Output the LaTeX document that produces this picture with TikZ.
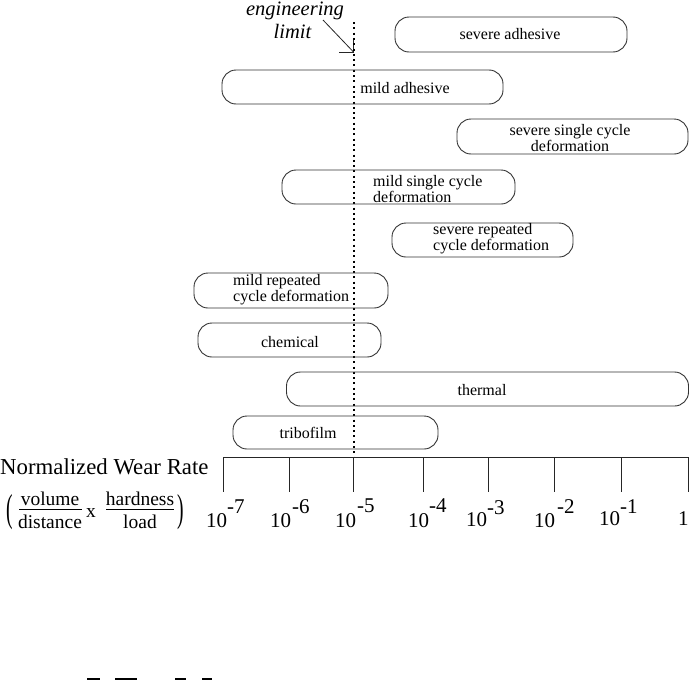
\documentclass[tikz,border=0pt]{standalone}
\usepackage{fontspec}
\setmainfont{Liberation Serif}
\begin{document}
\begin{tikzpicture}[x=1pt,y=-1pt,
  wbox/.style={draw=black!80, line width=0.9pt, rounded corners=14pt, inner sep=0pt},
  btext/.style={font=\fontsize{16}{16}\selectfont, inner sep=0pt},
  axtext/.style={font=\fontsize{21}{21}\selectfont, inner sep=0pt, anchor=base west},
  ftext/.style={font=\fontsize{19.5}{19.5}\selectfont, inner sep=0pt, anchor=base},
  thinln/.style={line width=0.8pt, draw=black!85},
  ]
\useasboundingbox (0,0) rectangle (690,680);

% engineering limit
\node[font=\fontsize{20.5}{20.5}\selectfont\itshape, inner sep=0pt, anchor=base] (eng) at (295,15) {engineering};
\node[font=\fontsize{20.5}{20.5}\selectfont\itshape, inner sep=0pt, anchor=base] (lim) at (292.5,38) {limit};
\coordinate (tail) at (323,20);
\coordinate (tip) at (353.5,52);
\draw[thinln] (tail) -- (tip);
\draw[thinln] (tip) -- ++(-15,0);
\draw[thinln] (tip) -- ++(0,-14);
\coordinate (limtop) at (353.5,22);
\coordinate (limbot) at (353.5,457);
\draw[line width=2pt, dash pattern=on 2pt off 3.3pt] (limtop) -- (limbot);

% boxes
\node[wbox, minimum width=232pt, minimum height=35pt] (sa) at (511,34.5) {};
\node[btext] (saT) at (510,34) {severe adhesive};

\node[wbox, minimum width=281pt, minimum height=34pt] (ma) at (362.5,87) {};
\node[btext] (maT) at (405,88) {mild adhesive};

\node[wbox, minimum width=231pt, minimum height=35pt] (ss) at (572.5,136.5) {};
\node[btext, align=center] (ssT) at (570,138) {severe single cycle\\deformation};

\node[wbox, minimum width=233pt, minimum height=34pt] (ms) at (398.5,187) {};
\node[btext, align=left, anchor=west] (msT) at (373,189) {mild single cycle\\deformation};

\node[wbox, minimum width=181pt, minimum height=34pt] (sr) at (482.5,240) {};
\node[btext, align=left, anchor=west] (srT) at (433,239) {severe repeated\\cycle deformation};

\node[wbox, minimum width=194pt, minimum height=35pt] (mr) at (291,290.5) {};
\node[btext, align=left, anchor=west] (mrT) at (233,290) {mild repeated\\cycle deformation};

\node[wbox, minimum width=183pt, minimum height=34pt] (ch) at (289.5,340) {};
\node[btext] (chT) at (290,342) {chemical};

\node[wbox, minimum width=402pt, minimum height=34pt] (th) at (487.5,389) {};
\node[btext] (thT) at (482,390) {thermal};

\node[wbox, minimum width=205pt, minimum height=33pt] (tr) at (335.5,432.5) {};
\node[btext] (trT) at (308,433) {tribofilm};

% axis
\coordinate (a0) at (223,457);
\coordinate (a1) at (688,457);
\draw[thinln] (a0) -- (a1);
\foreach \x in {223,289,353.5,423,488,554,621,688}
  \draw[thinln] (\x,457) -- (\x,492);

\node[axtext] (l7) at (206,527) {10\raisebox{14pt}{-7}};
\node[axtext] (l6) at (270,527) {10\raisebox{14pt}{\hspace{1pt}-6}};
\node[axtext] (l5) at (335,527) {10\raisebox{15pt}{\hspace{1pt}-5}};
\node[axtext] (l4) at (408,527) {10\raisebox{15pt}{-4}};
\node[axtext] (l3) at (466,526) {10\raisebox{12pt}{-3}};
\node[axtext] (l2) at (534,527) {10\raisebox{14pt}{\hspace{2pt}-2}};
\node[axtext] (l1) at (599,525) {10\raisebox{12pt}{-1}};
\node[axtext] (l0) at (678,525) {1};

% axis title
\node[font=\fontsize{22.8}{22.8}\selectfont, inner sep=0pt, anchor=base west] (nwr) at (0,474) {Normalized Wear Rate};

% fraction
\node[anchor=base, inner sep=0pt, font=\fontsize{19.5}{19.5}\selectfont] (lp) at (10,521) {\scalebox{1}[2]{(}};
\node[ftext] (vol) at (50,505) {volume};
\node[ftext] (dist) at (50,528) {distance};
\coordinate (b1s) at (19,509);
\coordinate (b1e) at (82,509);
\draw[line width=0.9pt] (b1s) -- (b1e);
\node[ftext] (xx) at (91,517) {x};
\node[ftext] (hard) at (140,505) {hardness};
\node[ftext] (load) at (140,528) {load};
\coordinate (b2s) at (106,509);
\coordinate (b2e) at (174,509);
\draw[line width=0.9pt] (b2s) -- (b2e);
\node[anchor=base, inner sep=0pt, font=\fontsize{19.5}{19.5}\selectfont] (rp) at (181,521) {\scalebox{1}[2]{)}};

% scan fragments at bottom edge
\fill (87,678) rectangle (100,680);
\fill (115,678) rectangle (137,680);
\fill (175,678) rectangle (186,680);
\fill (202,678) rectangle (212,680);
\end{tikzpicture}
\end{document}
